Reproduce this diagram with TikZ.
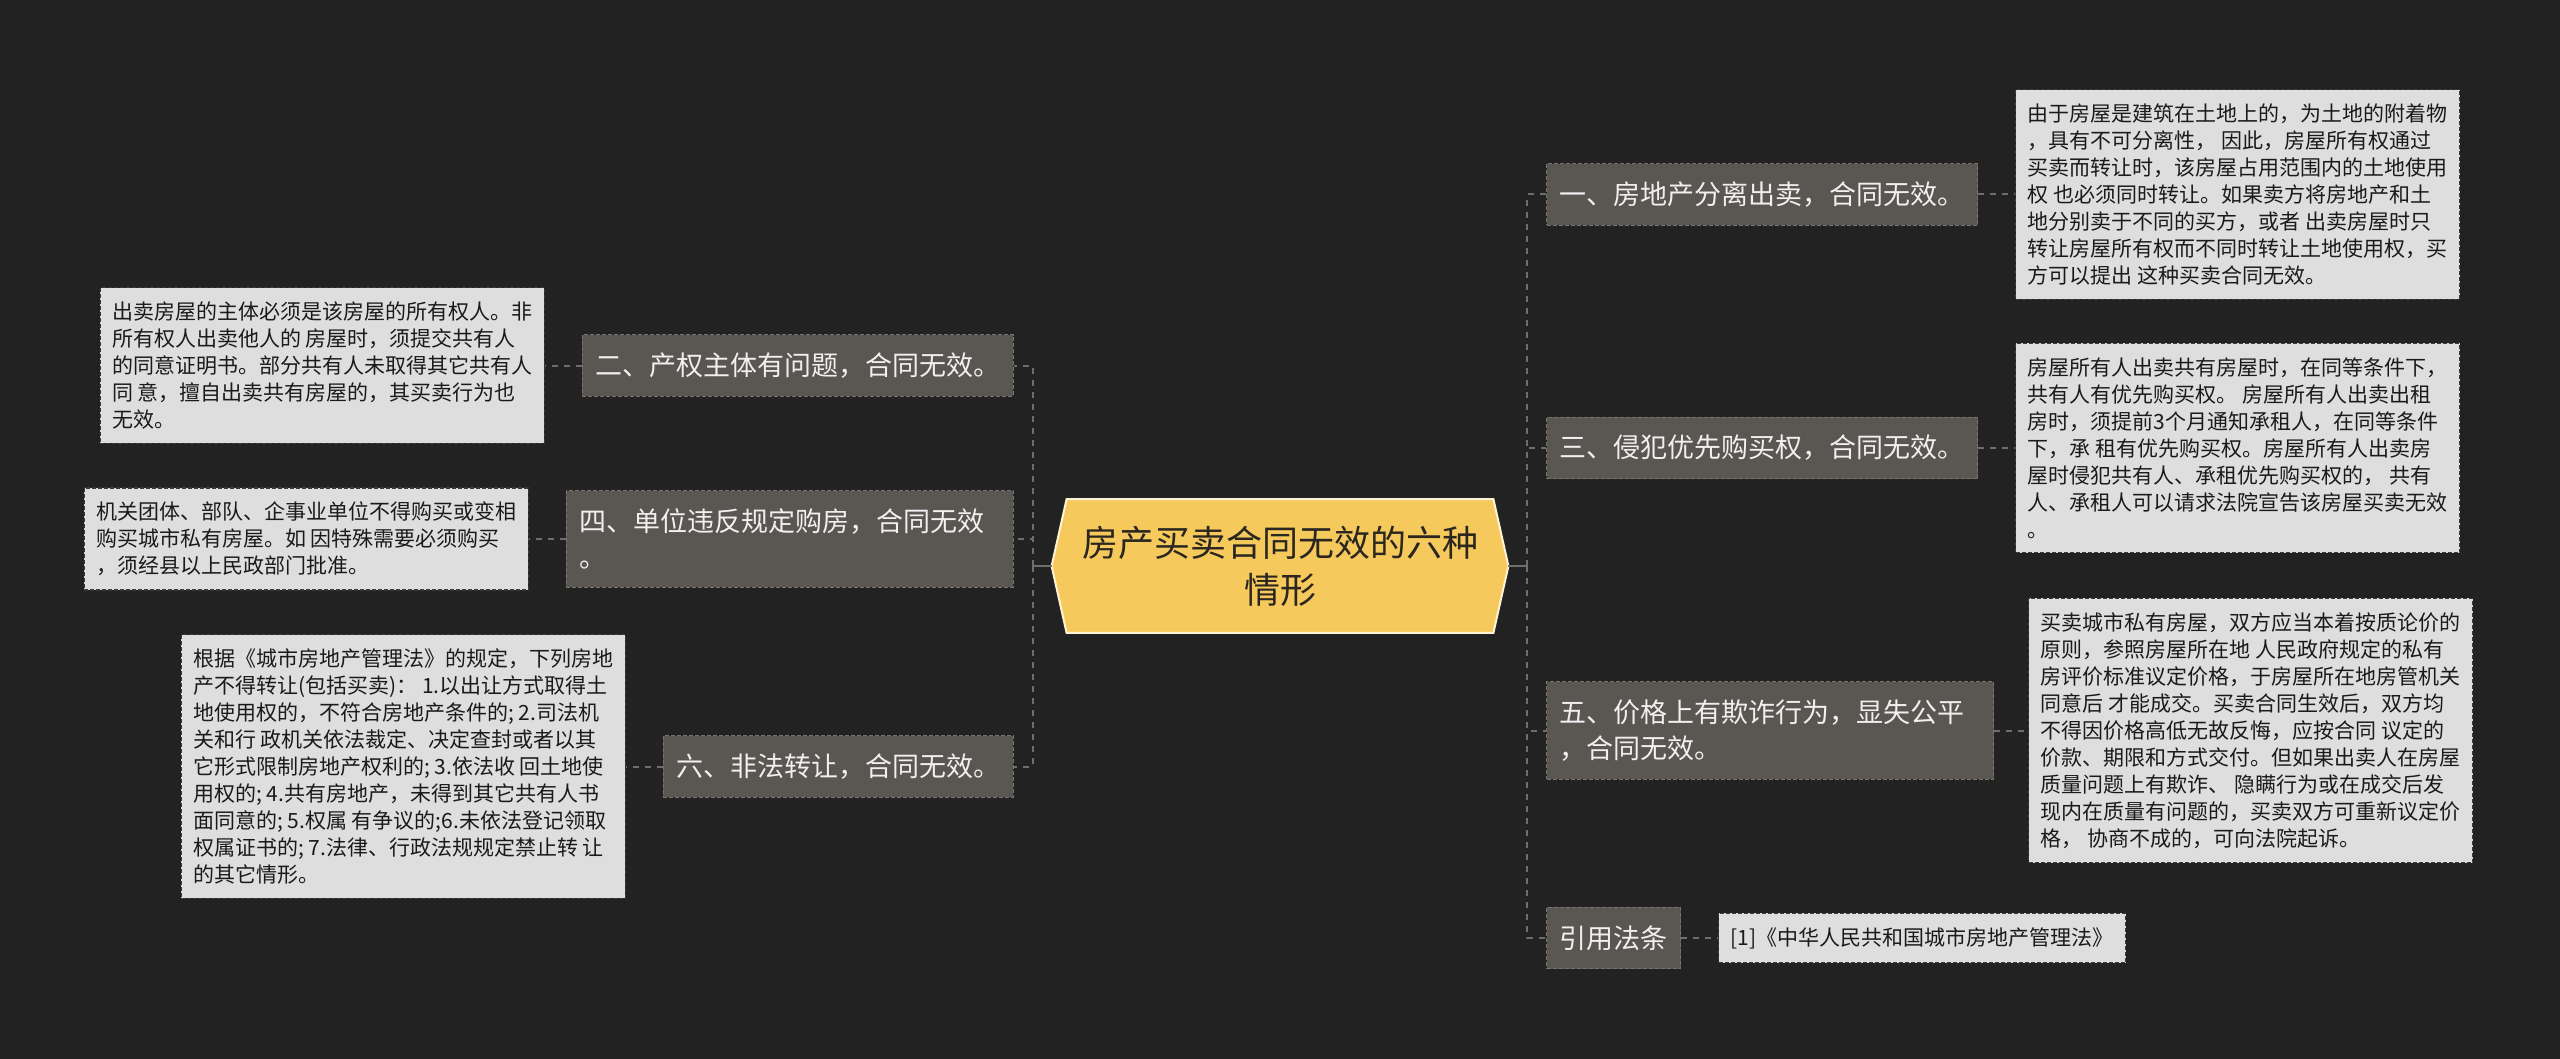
\documentclass[tikz,border=0pt]{standalone}
\usepackage{fontspec}
\setmainfont{Noto Sans CJK SC}
\usetikzlibrary{positioning,backgrounds}
\definecolor{bgdark}{HTML}{222222}
\definecolor{rootfill}{HTML}{F5C95B}
\definecolor{rootline}{HTML}{FFF3D6}
\definecolor{roottext}{HTML}{2B2620}
\definecolor{branchfill}{HTML}{5A5652}
\definecolor{branchline}{HTML}{77726D}
\definecolor{branchtext}{HTML}{F0F0F0}
\definecolor{notefill}{HTML}{DEDEDE}
\definecolor{noteline}{HTML}{3A3A3A}
\definecolor{notetext}{HTML}{1A1A1A}
\definecolor{linkgray}{HTML}{6E6E6E}

\begin{document}
\begin{tikzpicture}[
        x=0.5pt, y=-0.5pt,
        node distance=18.5pt,
        every node/.style={align=left},
        root/.style={font=\fontsize{18}{23.5}\selectfont, text=roottext, align=center,
            minimum width=228pt, minimum height=66.5pt, inner sep=0pt},
        root_shape/.style={fill=rootfill, draw=rootline, line width=1pt},
        branch/.style={fill=branchfill, draw=branchline, line width=0.6pt, dash pattern=on 2pt off 1pt,
            text=branchtext, font=\fontsize{13.5}{18}\selectfont, inner xsep=6.5pt, inner ysep=9pt},
        wide_branch/.style={branch, text width=210.5pt},
        note/.style={fill=notefill, draw=noteline, line width=0.6pt, dash pattern=on 2pt off 1pt,
            text=notetext, font=\fontsize{10.5}{13.5}\selectfont, inner xsep=6pt, inner ysep=7pt},
        link/.style={draw=linkgray, line width=1pt, dash pattern=on 3pt off 3pt},
        stub/.style={draw=linkgray, line width=1pt}
    ]
    \useasboundingbox (0,0) rectangle (2560,1059);

    \node[root] (root) at (1280,566) {房产买卖合同无效的六种\\情形};

    % right side
    \node[branch, anchor=west] (b1) at (1546,194.5) {一、房地产分离出卖，合同无效。};
    \node[branch, anchor=west] (b3) at (1546,448) {三、侵犯优先购买权，合同无效。};
    \node[wide_branch, anchor=west] (b5) at (1546,730.5) {五、价格上有欺诈行为，显失公平\\，合同无效。};
    \node[branch, anchor=west] (cite) at (1546,938) {引用法条};

    \node[note, right=of b1] (n1) {
        由于房屋是建筑在土地上的，为土地的附着物\\
        ，具有不可分离性， 因此，房屋所有权通过\\
        买卖而转让时，该房屋占用范围内的土地使用\\
        权 也必须同时转让。如果卖方将房地产和土\\
        地分别卖于不同的买方，或者 出卖房屋时只\\
        转让房屋所有权而不同时转让土地使用权，买\\
        方可以提出 这种买卖合同无效。};
    \node[note, right=of b3] (n3) {
        房屋所有人出卖共有房屋时，在同等条件下，\\
        共有人有优先购买权。 房屋所有人出卖出租\\
        房时，须提前3个月通知承租人，在同等条件\\
        下，承 租有优先购买权。房屋所有人出卖房\\
        屋时侵犯共有人、承租优先购买权的， 共有\\
        人、承租人可以请求法院宣告该房屋买卖无效\\
        。};
    \node[note, right=17pt of b5] (n5) {
        买卖城市私有房屋，双方应当本着按质论价的\\
        原则，参照房屋所在地 人民政府规定的私有\\
        房评价标准议定价格，于房屋所在地房管机关\\
        同意后 才能成交。买卖合同生效后，双方均\\
        不得因价格高低无故反悔，应按合同 议定的\\
        价款、期限和方式交付。但如果出卖人在房屋\\
        质量问题上有欺诈、 隐瞒行为或在成交后发\\
        现内在质量有问题的，买卖双方可重新议定价\\
        格， 协商不成的，可向法院起诉。};
    \node[note, right=of cite] (ncite) {[1]《中华人民共和国城市房地产管理法》};

    % left side
    \node[branch, anchor=east] (b2) at (1014,365.5) {二、产权主体有问题，合同无效。};
    \node[wide_branch, anchor=east] (b4) at (1014,539) {四、单位违反规定购房，合同无效\\。};
    \node[branch, anchor=east] (b6) at (1014,766.5) {六、非法转让，合同无效。};

    \node[note, left=of b2] (n2) {
        出卖房屋的主体必须是该房屋的所有权人。非\\
        所有权人出卖他人的 房屋时，须提交共有人\\
        的同意证明书。部分共有人未取得其它共有人\\
        同 意，擅自出卖共有房屋的，其买卖行为也\\
        无效。};
    \node[note, left=of b4] (n4) {
        机关团体、部队、企事业单位不得购买或变相\\
        购买城市私有房屋。如 因特殊需要必须购买\\
        ，须经县以上民政部门批准。};
    \node[note, left=of b6] (n6) {
        根据《城市房地产管理法》的规定，下列房地\\
        产不得转让(包括买卖)：  1.以出让方式取得土\\
        地使用权的，不符合房地产条件的; 2.司法机\\
        关和行 政机关依法裁定、决定查封或者以其\\
        它形式限制房地产权利的; 3.依法收 回土地使\\
        用权的; 4.共有房地产，未得到其它共有人书\\
        面同意的; 5.权属 有争议的;6.未依法登记领取\\
        权属证书的; 7.法律、行政法规规定禁止转 让\\
        的其它情形。};

    \begin{scope}[on background layer]
        \fill[bgdark] (0,0) rectangle (2560,1059);
        \filldraw[root_shape] (root.west) -- ([xshift=7.5pt]root.north west)
            -- ([xshift=-7.5pt]root.north east) -- (root.east)
            -- ([xshift=-7.5pt]root.south east) -- ([xshift=7.5pt]root.south west) -- cycle;
    \end{scope}

    % connectors
    \coordinate (rhub) at ([xshift=9.5pt]root.east);
    \coordinate (lhub) at ([xshift=-9.5pt]root.west);
    \draw[stub] (root.east) -- (rhub);
    \draw[stub] (root.west) -- (lhub);
    \foreach \b in {b1,b3,b5,cite}
        \draw[link] (rhub) |- (\b.west);
    \foreach \b in {b2,b4,b6}
        \draw[link] (lhub) |- (\b.east);
    \draw[link] (b1.east) -- (n1.west);
    \draw[link] (b3.east) -- (n3.west);
    \draw[link] (b5.east) -- (n5.west);
    \draw[link] (cite.east) -- (ncite.west);
    \draw[link] (b2.west) -- (n2.east);
    \draw[link] (b4.west) -- (n4.east);
    \draw[link] (b6.west) -- (n6.east);
\end{tikzpicture}
\end{document}
